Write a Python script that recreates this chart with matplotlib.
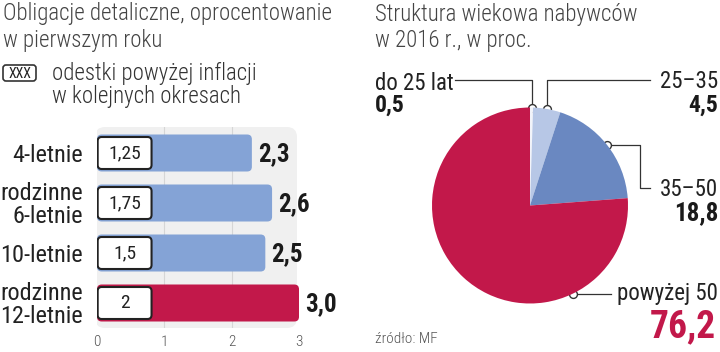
import numpy as np
import matplotlib
matplotlib.use("Agg")
import matplotlib.pyplot as plt
from matplotlib.patches import FancyBboxPatch

# dane: obligacje
kategorie = ["4-letnie", "rodzinne\n6-letnie", "10-letnie", "rodzinne\n12-letnie"]
oprocentowanie = [2.3, 2.6, 2.5, 3.0]
marze = ["1,25", "1,75", "1,5", "2"]
etykiety_opr = ["2,3", "2,6", "2,5", "3,0"]

# dane: struktura wiekowa
grupy = ["do 25 lat", "25\u201335", "35\u201350", "powy\u017cej 50"]
udzialy = [0.5, 4.5, 18.8, 76.2]
udzialy_txt = ["0,5", "4,5", "18,8", "76,2"]

NIEBIESKI = "#84a3d6"
CZERWONY = "#c2184a"
KOLORY_PIE = ["#f2f4fa", "#b7c7e6", "#6a88c1", CZERWONY]
CIEMNY = "#222222"
SZARY = "#444444"

plt.rcParams["font.family"] = ["Roboto Condensed", "Roboto", "DejaVu Sans"]

fig = plt.figure(figsize=(7.2, 3.52), dpi=100)
W, H = 720, 352

# warstwa pomocnicza w pikselach (y w dół)
nak = fig.add_axes([0, 0, 1, 1])
nak.set_xlim(0, W)
nak.set_ylim(H, 0)
nak.axis("off")

# --- wykres słupkowy ---
ax = fig.add_axes([97 / W, (H - 328) / H, 202 / W, 201 / H])
ax.set_facecolor("none")
ax.set_xlim(0, 3)
ax.set_ylim(3.5, -0.52)
ax.add_patch(FancyBboxPatch((-0.01, 0), 1.0, 1, boxstyle="round,pad=0,rounding_size=0.05",
                            transform=ax.transAxes, facecolor="#f0f0f0",
                            edgecolor="none", zorder=0))
for xg in [1, 2]:
    ax.axvline(xg, color="#d6d6d6", lw=0.8, zorder=1)

wys = 0.74
asp = 67.4 / 50.0
for i, (v, m, e) in enumerate(zip(oprocentowanie, marze, etykiety_opr)):
    kolor = CZERWONY if i == len(oprocentowanie) - 1 else NIEBIESKI
    ax.add_patch(FancyBboxPatch((0, i - wys / 2), v, wys,
                                boxstyle="round,pad=0,rounding_size=0.07",
                                mutation_aspect=asp, facecolor=kolor,
                                edgecolor="none", zorder=2))
    ax.add_patch(FancyBboxPatch((0.01, i - 0.32), 0.8, 0.64,
                                boxstyle="round,pad=0,rounding_size=0.06",
                                mutation_aspect=asp, facecolor="white",
                                edgecolor=CIEMNY, lw=1.5, zorder=3))
    ax.text(0.41, i + 0.01, m, ha="center", va="center", fontsize=14,
            color=CIEMNY, zorder=4)
    ax.text(v + 0.09, i + 0.02, e, ha="left", va="center", fontsize=18,
            fontweight="bold", color="#1a1a1a")

ax.set_yticks(range(len(kategorie)))
ax.set_yticklabels(kategorie, fontsize=17.5, color=CIEMNY, linespacing=0.95)
ax.set_xticks([0, 1, 2, 3])
ax.set_xticklabels(["0", "1", "2", "3"], fontsize=11, color="#555555", fontweight="light")
ax.tick_params(axis="x", length=0, pad=5)
ax.tick_params(axis="y", length=0, pad=10)
for s in ax.spines.values():
    s.set_visible(False)

# tytuł lewy i legenda
tyt = dict(fontsize=16.5, fontweight="light", color=SZARY, va="baseline")
nak.text(3, 20, "Obligacje detaliczne, oprocentowanie", **tyt)
nak.text(3, 47, "w pierwszym roku", **tyt)
nak.add_patch(FancyBboxPatch((3, 65), 33, 16, boxstyle="round,pad=0,rounding_size=3",
                             facecolor="white", edgecolor="#333333", lw=1.2))
nak.text(19.5, 73.5, "XXX", fontsize=10, ha="center", va="center", color=CIEMNY)
nak.text(52, 80, "odestki powy\u017cej inflacji", fontsize=16.5, fontweight="light",
         color="#333333", va="baseline")
nak.text(52, 103, "w kolejnych okresach", fontsize=16.5, fontweight="light",
         color="#333333", va="baseline")

# --- wykres kołowy ---
R = 98
cx, cy = 530, 205.5
ax2 = fig.add_axes([(cx - R) / W, (H - cy - R) / H, 2 * R / W, 2 * R / H])
ax2.pie(udzialy, colors=KOLORY_PIE, startangle=90, counterclock=False, radius=1,
        wedgeprops=dict(linewidth=0))
ax2.set_xlim(-1, 1)
ax2.set_ylim(-1, 1)
ax2.set_aspect("equal")

nak.text(375, 21, "Struktura wiekowa nabywc\u00f3w", **tyt)
nak.text(375, 47, "w 2016 r., w proc.", **tyt)

# punkty zaczepienia etykiet (ułamek szerokości wycinka)
frakcje = [0.5, 0.5, 0.5, 0.25]
kumul = np.concatenate([[0], np.cumsum(udzialy)]) / sum(udzialy)
kotwice = []
for i, f in enumerate(frakcje):
    kat = 2 * np.pi * (kumul[i] + f * (kumul[i + 1] - kumul[i]))
    kotwice.append((cx + R * np.sin(kat), cy - R * np.cos(kat)))

lk = dict(color="#333333", lw=0.9)
opis = dict(fontsize=16.5, color=CIEMNY, va="baseline")
wart = dict(fontweight="bold", color="#1a1a1a", va="baseline")

# do 25 lat
x0, y0 = kotwice[0]
nak.plot([455, x0, x0], [80, 80, y0], **lk)
nak.text(375, 90, grupy[0], **opis)
nak.text(375, 112, udzialy_txt[0], fontsize=17, **wart)
# 25-35
x1, y1 = kotwice[1]
nak.plot([x1, x1, 650], [y1, 80, 80], **lk)
nak.text(718, 88, grupy[1], ha="right", **opis)
nak.text(718, 112, udzialy_txt[1], fontsize=17, ha="right", **wart)
# 35-50
x2, y2 = kotwice[2]
nak.plot([x2, 640, 640, 650], [y2, y2, 188, 188], **lk)
nak.text(718, 196, grupy[2], ha="right", **opis)
nak.text(718, 220, udzialy_txt[2], fontsize=18, ha="right", **wart)
# powyżej 50
x3, y3 = kotwice[3]
nak.plot([x3, 611], [y3, y3], **lk)
nak.text(718, 300, grupy[3], ha="right", **opis)
nak.text(716, 337, udzialy_txt[3], fontsize=27, fontweight="bold", color=CZERWONY,
         va="baseline", ha="right")

nak.scatter([k[0] for k in kotwice], [k[1] for k in kotwice], s=32,
            facecolor="white", edgecolor="#333333", lw=1, zorder=5)

nak.text(375, 343, "\u017ar\u00f3d\u0142o: MF", fontsize=11, fontweight="light",
         color="#555555", va="baseline")

fig.savefig("out.png", dpi=100)
